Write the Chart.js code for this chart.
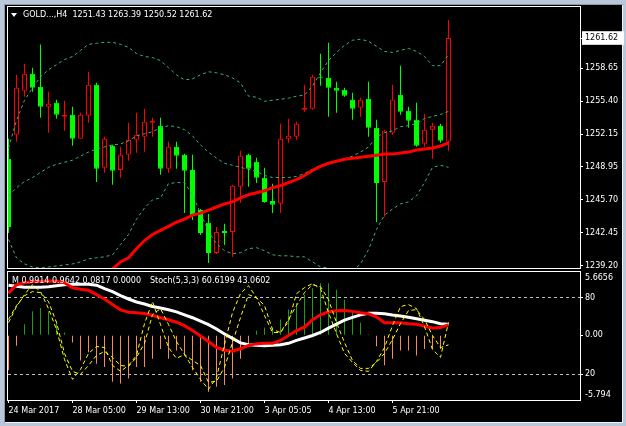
<!DOCTYPE html>
<html>
<head>
<meta charset="utf-8">
<title>GOLD H4</title>
<script src="https://cdn.jsdelivr.net/npm/chart.js@4/dist/chart.umd.min.js"></script>
<style>
  html, body { margin:0; padding:0; }
  body { width:626px; height:426px; position:relative; overflow:hidden; background:#b9c8d8; font-family:"DejaVu Sans", sans-serif; }
  #panel { position:absolute; left:5px; top:5px; width:617px; height:417px; background:#000; }
  #hiR { position:absolute; left:622px; top:5px; width:1px; height:418px; background:#f2f5f8; }
  #hiB { position:absolute; left:5px; top:422px; width:618px; height:1px; background:#f2f5f8; }
  #shL { position:absolute; left:4px; top:4px; width:1px; height:419px; background:#8d99a6; }
  #shT { position:absolute; left:4px; top:4px; width:619px; height:1px; background:#8d99a6; }
  canvas { position:absolute; left:0; }
  #cMain { top:0; }
  #cInd { top:270px; }
  .lbl { position:absolute; color:#fff; font-size:8px; line-height:11px; white-space:pre; }
  #tri { position:absolute; left:11px; top:13px; width:0; height:0; border-left:3px solid transparent; border-right:3px solid transparent; border-top:4px solid #fff; }
</style>
</head>
<body>
<div id="panel"></div><div id="hiR"></div><div id="hiB"></div><div id="shL"></div><div id="shT"></div>
<canvas id="cMain" width="626" height="270"></canvas>
<canvas id="cInd" width="626" height="156"></canvas>
<div id="tri"></div>
<div class="lbl" id="hdrMain" style="left:23px;top:9px;"></div>
<div class="lbl" id="hdrMacd" style="left:12px;top:275px;"></div>
<div class="lbl" id="hdrStoch" style="left:150px;top:275px;"></div>
<script>
// ---------- DATA ----------
const symbol = 'GOLD...,H4';
const open  = [1249.74,1252.10,1256.44,1258.11,1256.83,1254.86,1255.26,1253.88,1254.07,1251.71,1253.97,1257.03,1248.85,1251.02,1248.65,1250.13,1251.61,1251.91,1253.29,1252.99,1248.75,1250.92,1250.13,1248.65,1244.71,1243.44,1240.48,1242.65,1242.55,1246.98,1250.13,1249.44,1247.87,1245.60,1245.31,1251.71,1251.91,1254.57,1254.66,1257.82,1257.72,1256.73,1256.54,1255.55,1254.76,1255.65,1252.79,1247.47,1252.30,1256.04,1254.47,1253.58,1251.22,1252.59,1252.99,1251.43];
const high  = [1251.71,1258.01,1259.10,1258.70,1260.97,1256.34,1255.55,1255.45,1254.86,1254.27,1258.31,1257.22,1251.91,1251.12,1250.92,1253.29,1254.27,1254.66,1253.78,1253.78,1251.41,1251.41,1250.23,1250.13,1244.81,1244.32,1243.04,1243.34,1247.18,1250.53,1250.23,1249.84,1248.85,1247.28,1253.19,1253.68,1253.38,1257.03,1258.01,1260.08,1261.16,1257.32,1256.73,1256.24,1255.75,1257.32,1253.58,1252.59,1257.03,1258.90,1254.86,1255.26,1254.17,1253.29,1253.19,1263.39];
const low   = [1242.45,1251.41,1255.85,1256.34,1253.78,1252.30,1253.68,1252.50,1251.02,1251.71,1253.29,1247.47,1248.36,1247.18,1247.87,1249.54,1250.33,1250.43,1251.91,1248.16,1248.36,1248.75,1244.42,1243.73,1242.25,1239.49,1240.38,1241.27,1240.09,1245.41,1246.98,1247.37,1245.41,1244.42,1244.42,1251.31,1251.61,1254.37,1254.57,1256.93,1253.88,1254.27,1255.85,1253.58,1253.88,1251.91,1243.53,1244.03,1252.10,1254.07,1252.79,1250.92,1250.92,1249.74,1251.31,1250.52];
const close = [1243.04,1256.73,1258.11,1256.73,1254.86,1255.16,1254.07,1254.07,1251.71,1254.07,1257.03,1248.75,1251.71,1248.56,1250.13,1251.61,1252.10,1253.38,1253.48,1248.75,1250.92,1250.03,1248.56,1244.22,1242.45,1240.48,1242.55,1242.45,1247.08,1250.03,1248.75,1247.87,1245.50,1245.21,1251.71,1252.00,1253.19,1254.76,1257.82,1257.72,1256.73,1256.44,1255.94,1254.66,1255.55,1252.79,1247.37,1252.50,1255.55,1254.37,1253.48,1251.02,1252.59,1252.99,1251.51,1261.62];

const bbUpper  = [1250.8,1253.5,1255.5,1256.7,1257.8,1258.5,1259.0,1259.5,1259.8,1260.4,1261.0,1261.1,1261.2,1261.2,1261.0,1260.7,1260.1,1259.8,1259.7,1259.4,1258.7,1258.0,1257.5,1257.6,1258.0,1258.3,1258.2,1258.0,1257.7,1257.2,1255.9,1255.8,1255.4,1255.5,1255.6,1255.7,1255.9,1256.0,1256.9,1258.2,1259.4,1260.2,1260.9,1261.4,1261.5,1261.3,1260.8,1260.3,1260.2,1260.4,1260.6,1260.3,1259.8,1258.9,1258.9,1260.0];
const bbMiddle = [1246.1,1246.9,1247.5,1247.9,1248.4,1248.9,1249.2,1249.4,1249.6,1250.0,1250.4,1250.7,1250.9,1251.1,1251.2,1251.5,1252.0,1252.2,1252.4,1252.8,1253.0,1252.9,1252.6,1252.0,1251.1,1250.4,1249.8,1249.3,1249.1,1248.9,1248.7,1248.5,1248.1,1247.9,1247.9,1247.9,1248.0,1248.3,1248.7,1249.1,1249.3,1249.4,1249.7,1250.0,1250.4,1250.9,1251.9,1252.3,1252.5,1252.9,1253.0,1253.2,1253.7,1253.9,1254.1,1254.4];
const bbLower  = [1241.8,1240.0,1239.4,1239.1,1239.0,1239.1,1239.2,1239.3,1239.4,1239.6,1239.9,1240.0,1240.1,1240.3,1241.3,1242.3,1243.8,1244.9,1245.7,1245.9,1247.3,1247.4,1247.4,1246.2,1244.4,1242.6,1241.4,1240.7,1240.4,1240.5,1240.9,1241.0,1240.7,1240.3,1240.2,1240.2,1240.1,1240.1,1239.6,1239.1,1239.0,1238.7,1238.6,1238.7,1239.4,1240.8,1242.8,1244.2,1244.8,1245.3,1245.5,1246.1,1247.4,1248.9,1249.1,1248.9];
const maLine   = [null,null,null,null,null,null,null,null,null,null,null,1237.8,1238.4,1238.9,1239.6,1240.0,1240.9,1241.7,1242.3,1242.7,1243.1,1243.5,1243.8,1244.2,1244.4,1244.7,1245.0,1245.3,1245.5,1245.9,1246.2,1246.4,1246.6,1246.9,1247.1,1247.4,1247.7,1248.1,1248.6,1249.0,1249.3,1249.5,1249.7,1249.8,1249.9,1250.0,1250.1,1250.2,1250.2,1250.3,1250.4,1250.6,1250.7,1250.8,1251.0,1251.3];

const macdMain   = [4.48,4.39,4.30,4.30,4.30,4.35,4.44,4.52,4.57,4.57,4.57,4.48,4.17,3.91,3.55,3.25,2.98,2.80,2.58,2.45,2.28,2.10,1.83,1.57,1.26,0.95,0.56,0.11,-0.28,-0.68,-0.84,-0.90,-0.93,-0.90,-0.84,-0.72,-0.46,-0.24,-0.02,0.25,0.64,1.00,1.35,1.61,1.83,1.97,1.97,1.92,1.81,1.72,1.61,1.48,1.35,1.22,1.04,0.99];
const macdSignal = [3.77,4.52,4.70,4.79,4.83,4.86,4.83,4.70,4.26,4.13,4.04,3.64,3.25,2.76,2.28,2.06,2.01,1.95,1.79,1.57,1.39,1.17,0.86,0.42,-0.06,-0.55,-1.08,-1.34,-1.43,-1.21,-0.90,-0.77,-0.72,-0.72,-0.46,-0.02,0.42,0.73,1.39,1.83,2.10,2.19,2.21,2.14,2.01,1.92,1.66,1.13,1.13,1.13,1.04,0.98,0.82,0.66,0.69,0.96];
const macdHist   = [-3.13,-0.93,0.98,2.16,2.45,2.16,1.28,0.25,-0.64,-2.25,-1.52,-2.55,-2.84,-4.16,-4.31,-3.87,-2.84,-2.84,-2.11,-1.23,-2.11,-1.37,-1.81,-3.13,-4.16,-5.05,-4.60,-4.45,-3.87,-2.11,-0.78,0.40,0.69,0.69,1.42,2.30,2.89,3.63,4.22,4.66,4.66,4.07,3.18,2.16,1.13,0.10,-0.99,-2.69,-2.11,-1.37,-1.37,-1.81,-1.23,-1.23,-1.23,0.08];
const stochK = [60.5,73.0,82.3,90.1,84.7,71.4,55.1,31.7,16.1,23.9,36.4,41.8,41.0,27.0,22.4,27.0,34.8,59.7,76.9,59.0,41.0,32.5,35.6,25.5,16.1,8.3,17.7,43.4,68.3,83.1,89.3,80.0,66.0,52.7,52.7,61.3,83.1,87.8,90.9,87.0,68.3,51.9,36.4,29.4,23.1,22.4,30.1,41.0,58.2,73.0,74.5,71.4,57.4,39.5,33.3,60.6];
const stochD = [62.9,73.8,81.5,84.7,83.9,76.9,60.5,36.4,22.4,20.0,27.0,34.8,37.9,33.3,27.0,26.2,33.3,44.2,66.7,71.4,59.0,45.7,35.6,30.9,27.0,13.8,14.6,25.5,44.9,64.4,82.3,80.0,73.8,55.1,52.7,62.9,73.8,83.9,90.1,88.6,78.4,60.5,44.9,30.9,24.7,24.7,29.4,36.4,47.3,59.7,69.9,70.6,62.9,50.4,41.0,43.1];

const priceTicks = [1239.20,1242.45,1245.70,1248.95,1252.15,1255.40,1258.65];
const macdHeader = [0.9914,0.9642,0.0817,0.0000];
const stochHeader = [60.6199,43.0602];
const stochLevels = [20,80];
const macdRange = [-5.794,5.6656];
const timeTickIdx = [0,8,16,24,32,40,48];
const timeTickLabels = ['24 Mar 2017','28 Mar 05:00','29 Mar 13:00','30 Mar 21:00','3 Apr 05:05','4 Apr 13:00','5 Apr 21:00'];

// ---------- HELPERS ----------
const n = close.length;
const idx = Array.from({length:n}, (_, i) => i);
const pts = arr => idx.map(i => ({x:i, y:arr[i]}));
const bull = i => close[i] >= open[i];
const RED = '#ff0000', GREEN = '#00ff00', BB = '#3cb371';
const FONT = {family:'"DejaVu Sans", sans-serif', size:8};
const X_MIN = -0.0625, X_MAX = 71.4375;
const AXIS_W = 46;
const lastClose = close[n-1];

document.getElementById('hdrMain').textContent = symbol + '  ' + [open[n-1], high[n-1], low[n-1], close[n-1]].map(v => v.toFixed(2)).join(' ');
document.getElementById('hdrMacd').textContent = 'M ' + macdHeader.map(v => v.toFixed(4)).join(' ');
document.getElementById('hdrStoch').textContent = 'Stoch(5,3,3) ' + stochHeader.map(v => v.toFixed(4)).join(' ');

const framePlugin = {
  id: 'frame',
  afterDatasetsDraw(chart) {
    const a = chart.chartArea, c = chart.ctx;
    c.save();
    c.strokeStyle = '#ffffff'; c.lineWidth = 1; c.setLineDash([]);
    c.strokeRect(a.left - 0.5, a.top - 0.5, a.right - a.left + 1, a.bottom - a.top + 1);
    c.restore();
  }
};
// overlay axes (zero layout width) get the full label strip right of the plot
const overlayAxes = {
  id: 'overlayAxes',
  afterLayout(chart) {
    ['yS', 'yTop', 'yBot'].forEach(id => {
      const s = chart.scales[id];
      if (!s) return;
      s.left = chart.chartArea.right;
      s.right = chart.chartArea.right + AXIS_W;
      s.width = AXIS_W;
    });
  }
};
const fitY = w => s => { s.width = w; s.paddingTop = 0; s.paddingBottom = 0; };

const commonOpts = {
  responsive: false, animation: false, devicePixelRatio: 1, events: [],
  plugins: { legend: { display: false }, tooltip: { enabled: false } }
};
const lineDs = (arr, color, width, dash, order, yId) => ({
  type: 'line', data: pts(arr), borderColor: color, borderWidth: width, borderDash: dash,
  pointRadius: 0, tension: 0, clip: 0, order: order, xAxisID: 'x', yAxisID: yId, fill: false
});

// ---------- MAIN PRICE CHART ----------
new Chart(document.getElementById('cMain'), {
  type: 'bar',
  data: { datasets: [
    lineDs(maLine, RED, 3, [], 1, 'y'),
    lineDs(bbUpper, BB, 1, [3,3], 2, 'y'),
    lineDs(bbMiddle, BB, 1, [3,3], 2, 'y'),
    lineDs(bbLower, BB, 1, [3,3], 2, 'y'),
    { type: 'bar', data: idx.map(i => ({x:i, y:[open[i], close[i]]})), barThickness: 5,
      backgroundColor: ctx => bull(ctx.dataIndex) ? '#000000' : GREEN,
      borderColor: ctx => bull(ctx.dataIndex) ? RED : GREEN,
      borderWidth: 1, borderSkipped: false, inflateAmount: 0, grouped: false, order: 3, xAxisID: 'x', yAxisID: 'y' },
    { type: 'bar', data: idx.map(i => ({x:i, y:[low[i], high[i]]})), barThickness: 1,
      backgroundColor: ctx => bull(ctx.dataIndex) ? RED : GREEN,
      borderWidth: 0, inflateAmount: 0, grouped: false, order: 4, xAxisID: 'x', yAxisID: 'y' }
  ]},
  options: Object.assign({}, commonOpts, {
    layout: { padding: { left: 8, top: 7, right: 0, bottom: 2 }, autoPadding: false },
    scales: {
      x: { type: 'linear', min: X_MIN, max: X_MAX, display: false, offset: false, bounds: 'data', grid: { offset: false } },
      y: { type: 'linear', position: 'right', min: 1239.00, max: 1264.67, bounds: 'data',
        afterFit: fitY(AXIS_W),
        afterBuildTicks: s => { s.ticks = priceTicks.concat([lastClose]).map(v => ({value: v})); },
        ticks: { autoSkip: false, padding: 2, font: FONT,
          color: c => (c.tick && c.tick.value === lastClose) ? '#000000' : '#ffffff',
          callback: v => Number(v).toFixed(2),
          showLabelBackdrop: c => !!(c.tick && c.tick.value === lastClose),
          backdropColor: '#ffffff', backdropPadding: { top: 2, bottom: 2, left: 3, right: 6 } },
        grid: { display: true, drawOnChartArea: false, drawTicks: true, tickLength: 3, color: '#ffffff', tickColor: '#ffffff' },
        border: { display: false } }
    }
  }),
  plugins: [framePlugin]
});

// ---------- INDICATOR PANE ----------
const hiddenGrid = { display: true, drawOnChartArea: false, drawTicks: true, tickLength: 3, color: 'rgba(0,0,0,0)', tickColor: 'rgba(0,0,0,0)' };
new Chart(document.getElementById('cInd'), {
  type: 'bar',
  data: { datasets: [
    lineDs(stochD, '#ffff00', 1, [4,3], 1, 'yS'),
    lineDs(stochK, '#ffff00', 1, [4,3], 2, 'yS'),
    lineDs(macdSignal, RED, 3, [], 3, 'yM'),
    lineDs(macdMain, '#ffffff', 3, [], 4, 'yM'),
    { type: 'bar', data: pts(macdHist), barThickness: 1,
      backgroundColor: ctx => macdHist[ctx.dataIndex] >= 0 ? '#1f9a1f' : '#f78a64',
      borderWidth: 0, inflateAmount: 0, grouped: false, order: 5, xAxisID: 'x', yAxisID: 'yM' }
  ]},
  options: Object.assign({}, commonOpts, {
    layout: { padding: { left: 8, top: 2, right: 0, bottom: 0 }, autoPadding: false },
    scales: {
      x: { type: 'linear', position: 'bottom', min: X_MIN, max: X_MAX, offset: false, bounds: 'data',
        afterFit: s => { s.height = 26; s.paddingLeft = 0; s.paddingRight = 0; },
        afterBuildTicks: s => { s.ticks = timeTickIdx.map(v => ({value: v})); },
        ticks: { autoSkip: false, maxRotation: 0, minRotation: 0, align: 'start', padding: 3, color: '#ffffff', font: FONT,
          callback: (v, i) => timeTickLabels[i] },
        grid: { display: true, drawOnChartArea: false, drawTicks: true, tickLength: 3, color: '#ffffff', offset: false },
        border: { display: false } },
      yS: { type: 'linear', position: 'right', min: 0, max: 100, weight: 0, bounds: 'data',
        afterFit: fitY(0),
        afterBuildTicks: s => { s.ticks = stochLevels.map(v => ({value: v})); },
        ticks: { autoSkip: false, padding: 2, color: '#ffffff', font: FONT, callback: v => String(v) },
        grid: { display: true, drawOnChartArea: true, drawTicks: true, tickLength: 3, color: '#bfbfbf', tickColor: '#ffffff' },
        border: { display: false, dash: [3,3] } },
      yTop: { type: 'linear', position: 'right', min: macdRange[0], max: macdRange[1], weight: 1, bounds: 'data',
        afterFit: fitY(0),
        afterBuildTicks: s => { s.ticks = [{value: macdRange[1]}]; },
        ticks: { autoSkip: false, padding: 2, align: 'start', labelOffset: 2, color: '#ffffff', font: FONT, callback: v => String(v) },
        grid: hiddenGrid, border: { display: false } },
      yBot: { type: 'linear', position: 'right', min: macdRange[0], max: macdRange[1], weight: 2, bounds: 'data',
        afterFit: fitY(0),
        afterBuildTicks: s => { s.ticks = [{value: macdRange[0]}]; },
        ticks: { autoSkip: false, padding: 2, align: 'end', labelOffset: -1, color: '#ffffff', font: FONT, callback: v => String(v) },
        grid: hiddenGrid, border: { display: false } },
      yM: { type: 'linear', position: 'right', min: macdRange[0], max: macdRange[1], weight: 3, bounds: 'data',
        afterFit: fitY(AXIS_W),
        afterBuildTicks: s => { s.ticks = [{value: 0}]; },
        ticks: { autoSkip: false, padding: 2, color: '#ffffff', font: FONT, callback: v => Number(v).toFixed(2) },
        grid: { display: true, drawOnChartArea: false, drawTicks: true, tickLength: 3, color: '#ffffff', tickColor: '#ffffff' },
        border: { display: false } }
    }
  }),
  plugins: [framePlugin, overlayAxes]
});
</script>
</body>
</html>
